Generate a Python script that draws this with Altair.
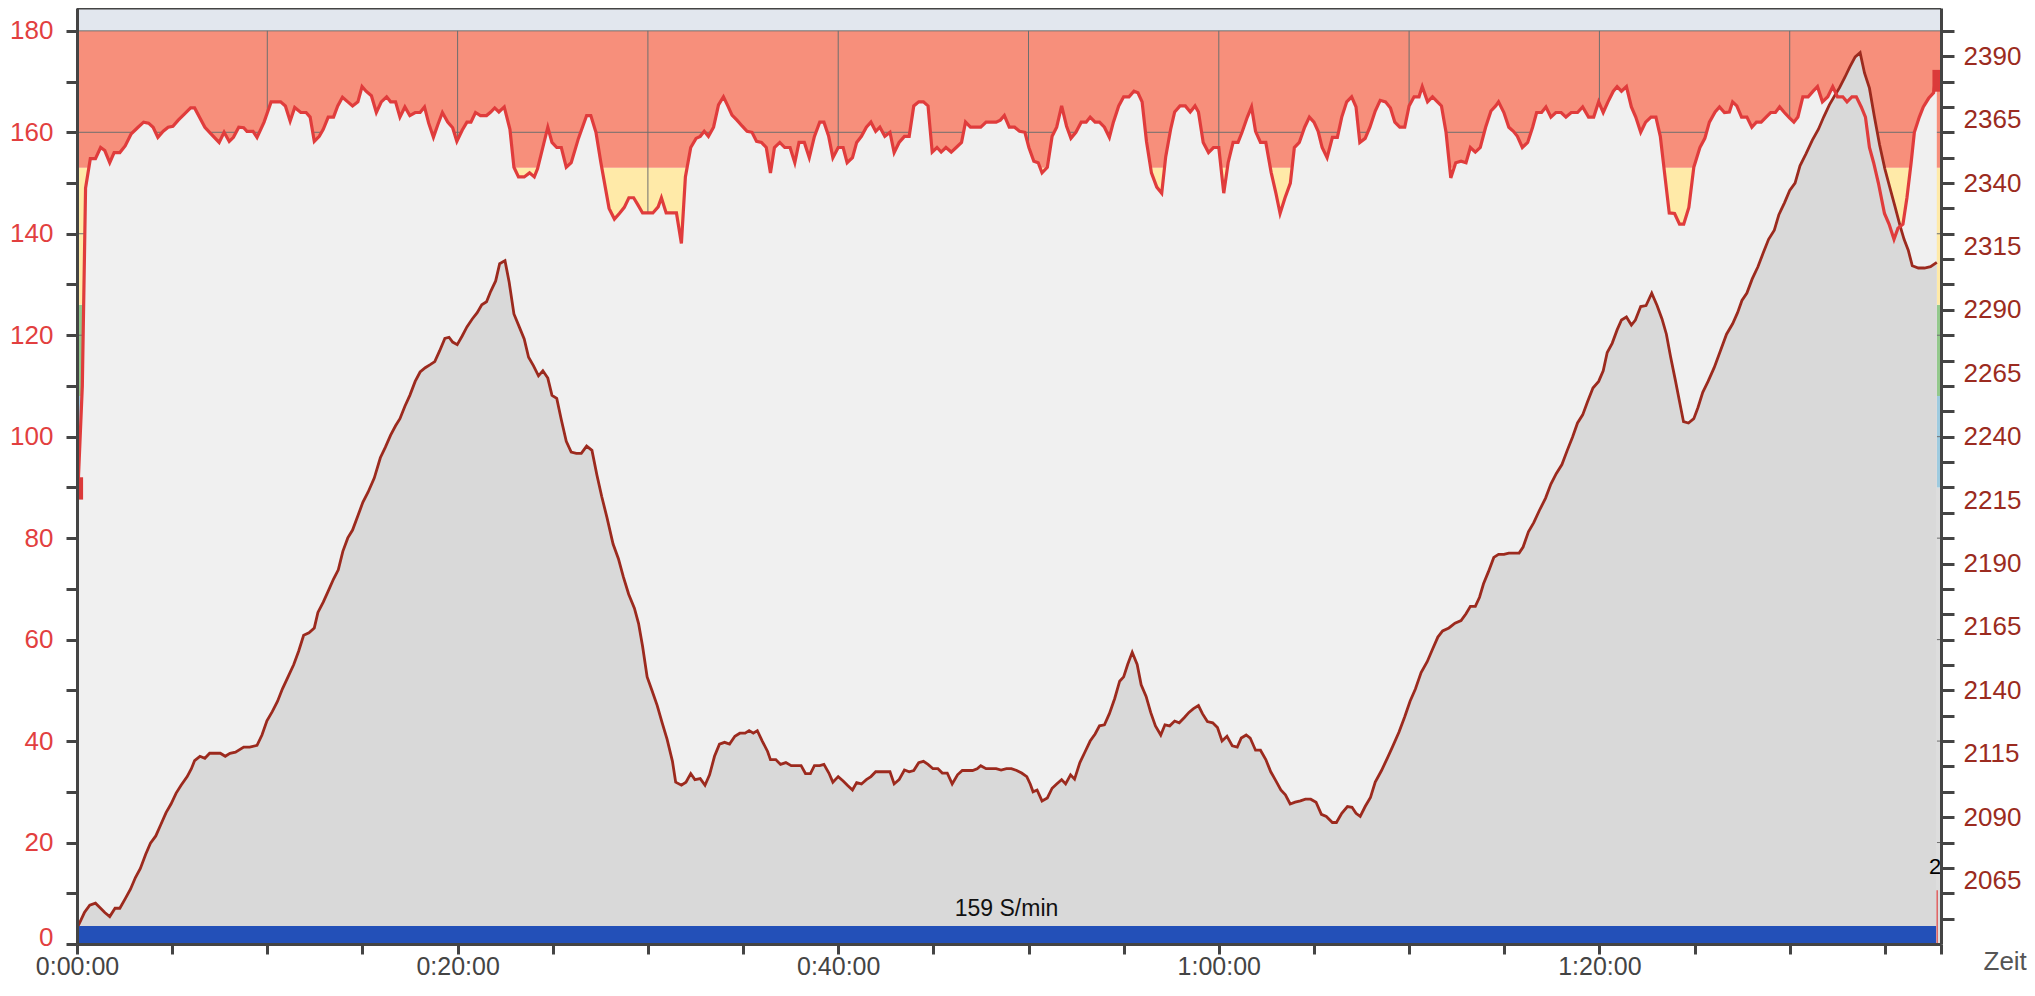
import altair as alt
import pandas as pd

FONT = "Liberation Sans"

# ---------------- data ----------------
hr_t = [0.06,0.28,0.45,0.7,0.97,1.24,1.46,1.72,1.95,2.25,2.53,2.85,3.18,3.5,3.76,4.0,4.25,4.53,4.79,5.04,5.32,5.64,5.97,6.18,6.46,6.72,7.04,7.47,7.73,8.0,8.22,8.5,8.76,8.93,9.25,9.46,9.83,10.2,10.7,10.95,11.2,11.44,11.76,12.04,12.25,12.47,12.73,12.94,13.2,13.48,13.7,13.95,14.23,14.48,14.76,14.98,15.19,15.47,15.73,15.99,16.27,16.48,16.74,16.97,17.23,17.49,17.77,18.03,18.26,18.48,18.73,18.95,19.2,19.48,19.74,19.96,20.24,20.49,20.7,20.94,21.2,21.52,21.74,21.95,22.17,22.45,22.75,22.96,23.2,23.5,23.78,24.03,24.2,24.74,24.96,25.21,25.45,25.71,25.97,26.35,26.78,27.0,27.27,27.53,27.96,28.24,28.5,28.76,29.0,29.25,29.46,29.72,30.0,30.26,30.54,30.71,30.96,31.22,31.5,31.76,31.97,32.25,32.53,32.75,32.96,33.18,33.45,33.71,33.97,34.2,34.42,34.68,34.96,35.21,35.47,35.71,35.97,36.22,36.44,36.65,36.93,37.19,37.47,37.72,37.94,38.22,38.48,38.75,39.03,39.25,39.5,39.72,40.0,40.26,40.47,40.75,40.97,41.22,41.48,41.72,41.97,42.19,42.45,42.72,42.94,43.2,43.48,43.73,43.97,44.23,44.48,44.72,44.94,45.19,45.41,45.66,45.94,46.2,46.48,46.69,46.95,47.23,47.49,47.77,48.03,48.3,48.52,48.73,48.99,49.27,49.53,49.81,50.02,50.28,50.51,50.71,50.99,51.24,51.48,51.74,52.0,52.23,52.49,52.77,53.03,53.24,53.5,53.73,53.99,54.25,54.46,54.74,55.0,55.28,55.54,55.75,55.97,56.2,56.46,56.74,57.0,57.21,57.47,57.68,57.96,58.24,58.5,58.75,58.93,59.18,59.46,59.72,60.0,60.26,60.49,60.75,61.01,61.22,61.5,61.72,61.93,62.19,62.47,62.75,63.0,63.22,63.48,63.76,63.97,64.23,64.51,64.76,65.0,65.22,65.43,65.69,65.97,66.23,66.46,66.72,66.98,67.21,67.41,67.69,67.94,68.22,68.48,68.76,69.02,69.25,69.51,69.77,70.0,70.26,70.52,70.69,70.97,71.23,71.49,71.7,71.94,72.19,72.45,72.73,72.99,73.22,73.48,73.74,74.02,74.3,74.55,74.7,74.98,75.24,75.48,75.69,75.95,76.23,76.49,76.7,76.96,77.19,77.45,77.71,77.99,78.24,78.52,78.85,79.12,79.43,79.7,79.96,80.2,80.45,80.73,80.93,81.16,81.42,81.68,81.91,82.17,82.43,82.71,82.97,83.2,83.42,83.67,83.95,84.21,84.43,84.7,84.96,85.28,85.54,85.78,86.08,86.31,86.57,86.83,87.0,87.22,87.47,87.75,88.01,88.25,88.5,88.76,89.0,89.25,89.47,89.72,90.0,90.22,90.43,90.69,90.97,91.23,91.46,91.72,92.0,92.26,92.51,92.79,93.01,93.27,93.5,93.76,93.98,94.19,94.41,94.66,94.98,95.22,95.48,95.69,95.95,96.16,96.38,96.55,96.81,97.02,97.3,97.56,97.73]
hr_v = [90.6,110,149,154.8,154.8,157,156.4,154,156,156,157.3,159.7,160.9,162,161.8,161,159,160.2,161,161.2,162.4,163.6,164.8,164.8,162.8,161,159.7,158,160,158.2,159,161,160.9,160.2,160.2,159,162,166,166,165.2,162.2,164.9,163.9,163.9,163,158.2,159.2,160.6,163,163,165.2,166.9,166,165.2,166,169,168.1,167.2,163.9,166,167,166,166,163,165,163.3,163.9,163.9,165,161.8,159,161.4,163.9,162,160.9,158.2,160.4,162,162,163.9,163.3,163.3,164,164.8,164,165,160.6,153.1,151.2,151.2,152,151.2,152.8,161,158,157,157,153.1,154,158.8,163.3,163.3,160,154,145,142.9,144,145.2,147.1,147.1,145.8,144.1,144.1,144.1,145.3,147.1,144.1,144.1,144.1,138.1,151.2,157,158.8,159.2,160.2,159.2,161,165.4,167,165.2,163.4,162.4,161.2,160.2,160,158.2,158,157,152,157,158,157,157,154,158,158,155,159.2,162,162,159.2,155,157,157,154,155,158,159.2,161,162,160.2,161,159.2,160,156,158,159.2,159.2,165.2,166,166,165.2,156.1,157,156.1,157,156.1,157,158,162,161,161,161,162,162,162,162.4,163.3,161,161,160.2,160,157,154.3,154,152,153.1,159.2,161,165.2,161.2,158.8,160,162,162,163,162,162,161,159,162,165.2,167,167,168.1,167.8,166,158.2,152,149.2,148,155.2,160.6,164,165.2,165.2,164,165.2,164,158,156,157,157,148,154,158,158,160,163,165,160.2,158,158,152.1,148,144,147.1,150,157,158,161,163,162,160.2,157,155,159,159,163,166,167,165,158,158.8,161,164.2,166.3,166,164.8,162,161,161,165.2,167,167,169,166,167,166,165.2,160,151,154,154.3,154,157,156.1,157,161,164.2,165.2,166,163.9,161,160.2,159.2,157,158,161,163.9,163.9,165,163,163.9,163.9,163,163.9,163.9,165,163,163,166,163.9,166,168.1,169,168.1,169,165,163,160,162,163,163,159.2,152.1,144.1,144,141.9,141.9,145.2,153.1,157,158.8,162,164,165,163.9,164,166,165.2,163,163,161,162,162,163,163.9,163.9,165,163.9,162.8,162,163,167,167,168.1,169,166,167,169,167,167,166,167,167,165,163,157,154,150,144,141.9,138.9,141.1,141.9,147.1,154,160,163,165,166.7,167.8,172.1]

el_t = [0.06,0.39,0.67,0.97,1.24,1.46,1.72,2.0,2.25,2.53,2.81,3.07,3.33,3.61,3.86,4.14,4.4,4.68,4.94,5.21,5.47,5.79,6.01,6.18,6.46,6.72,6.97,7.25,7.53,7.79,8.04,8.33,8.76,9.08,9.46,9.72,9.98,10.26,10.54,10.79,11.12,11.39,11.65,11.91,12.19,12.47,12.66,12.94,13.2,13.48,13.73,13.97,14.23,14.48,14.76,15.02,15.3,15.62,15.94,16.2,16.48,16.74,16.97,17.23,17.49,17.77,18.03,18.3,18.56,18.8,19.06,19.33,19.55,19.74,19.98,20.24,20.49,20.77,21.03,21.27,21.52,21.74,22.0,22.21,22.49,22.71,22.96,23.24,23.5,23.73,23.99,24.25,24.48,24.74,24.96,25.21,25.45,25.71,25.97,26.24,26.5,26.78,27.06,27.32,27.57,27.85,28.17,28.45,28.71,28.99,29.29,29.51,29.72,29.96,30.21,30.49,30.75,31.01,31.29,31.46,31.76,32.0,32.25,32.47,32.75,33.0,33.24,33.5,33.76,34.03,34.29,34.57,34.83,35.11,35.32,35.54,35.75,36.01,36.29,36.44,36.72,36.97,37.25,37.53,37.79,38.05,38.28,38.54,38.75,39.03,39.25,39.51,39.72,40.0,40.26,40.51,40.75,40.97,41.22,41.48,41.72,41.97,42.23,42.51,42.72,42.94,43.2,43.48,43.73,43.97,44.23,44.48,44.72,44.98,45.24,45.47,45.73,45.99,46.27,46.52,46.8,47.06,47.3,47.49,47.77,48.03,48.3,48.56,48.84,49.1,49.38,49.64,49.91,50.09,50.24,50.45,50.71,50.99,51.24,51.48,51.74,51.95,52.21,52.42,52.7,52.96,53.24,53.5,53.73,53.99,54.25,54.53,54.79,55.0,55.21,55.45,55.71,55.92,56.18,56.42,56.67,56.95,57.17,57.42,57.68,57.92,58.18,58.43,58.67,58.93,59.14,59.4,59.68,59.93,60.17,60.43,60.71,60.97,61.18,61.44,61.65,61.93,62.19,62.47,62.73,63.0,63.26,63.5,63.75,64.01,64.29,64.55,64.83,65.11,65.39,65.65,65.97,66.18,66.46,66.76,67.0,67.21,67.43,67.69,67.97,68.22,68.55,68.87,69.15,69.47,69.77,70.05,70.33,70.63,70.95,71.23,71.51,71.76,72.09,72.41,72.73,72.99,73.22,73.48,73.7,73.91,74.17,74.45,74.7,74.98,75.24,75.52,75.78,75.99,76.27,76.55,76.85,77.17,77.45,77.73,78.03,78.31,78.59,78.85,79.12,79.38,79.66,79.96,80.2,80.41,80.67,80.93,81.16,81.42,81.68,81.89,82.17,82.45,82.75,83.03,83.29,83.52,83.74,83.99,84.21,84.42,84.68,84.96,85.18,85.43,85.71,86.03,86.36,86.68,87.0,87.26,87.49,87.75,88.03,88.33,88.61,88.89,89.19,89.43,89.73,90.0,90.28,90.54,90.86,91.19,91.51,91.79,92.09,92.37,92.62,92.9,93.16,93.44,93.7,93.93,94.19,94.45,94.72,95.0,95.26,95.52,95.8,96.01,96.23,96.44,96.76,97.08,97.4,97.73]
el_v = [2047.1,2052.4,2055.3,2056.1,2054.1,2052.4,2050.8,2054.1,2054.1,2057.8,2061.6,2066.2,2069.8,2075.4,2079.7,2082.6,2087,2091.8,2095.2,2099.5,2102.6,2106,2109.1,2112.3,2114,2113.2,2115.2,2115.2,2115.2,2114,2115.2,2115.6,2117.6,2117.6,2118.3,2122.4,2128,2131.6,2135.7,2140.5,2145.8,2150.2,2155.5,2161.7,2162.7,2164.6,2170.7,2174.8,2179.1,2183.9,2187.5,2194.8,2200.1,2203.2,2208.8,2214.1,2218.2,2223.7,2231.7,2235.8,2240.6,2244.3,2247.1,2252,2256.3,2261.8,2265.5,2267.2,2268.4,2269.6,2273.9,2278.7,2279.2,2277.3,2276.3,2279.7,2283.3,2286.4,2288.9,2292,2293.2,2297.3,2301.4,2308.2,2309.4,2300.9,2288.4,2283.3,2278.5,2271.3,2267.9,2264,2266,2263.1,2256.3,2255.1,2246.7,2238.2,2233.9,2233.4,2233.4,2236.3,2234.6,2224.9,2216.5,2208.1,2197.7,2191.9,2184.7,2177.9,2172.4,2166.3,2157.4,2145.3,2140,2134,2127.2,2120.7,2112,2103.8,2102.6,2103.8,2107.2,2104.8,2105.2,2102.6,2106.7,2114,2118.8,2119.5,2118.8,2121.9,2123.1,2123.1,2124.1,2123.1,2124.1,2120,2115.9,2112.7,2112.7,2110.8,2111.5,2110.3,2110.3,2110.3,2107.2,2107.2,2110.3,2110.3,2110.8,2107.4,2103.8,2106,2104.3,2102.4,2100.7,2103.6,2103.1,2104.8,2106,2107.9,2107.9,2107.9,2107.9,2103.1,2104.8,2108.6,2107.9,2108.4,2111.5,2112,2110.8,2109.1,2109.1,2107.4,2107.4,2103.1,2106.7,2108.4,2108.4,2108.4,2109.1,2110.3,2109.1,2109.1,2109.1,2108.6,2109.1,2109.1,2108.4,2107.4,2106,2103.1,2100,2100.7,2096.4,2097.6,2101.4,2103.1,2104.8,2103.1,2106.7,2105,2111.5,2115.6,2120,2122.8,2126,2126.4,2130.8,2136.8,2143.6,2145.3,2150.2,2155,2150.2,2142.2,2137.6,2131.3,2126,2122.4,2126.4,2126,2127.9,2127.2,2129.2,2131.3,2132.8,2134,2130.8,2127.7,2127.2,2125.3,2120,2121.9,2118.1,2117.6,2121.2,2122.4,2121.2,2116.4,2116.4,2112.7,2107.9,2104.3,2100.7,2098.8,2095.2,2095.9,2096.4,2097.1,2097.1,2095.9,2091.1,2090.3,2087.9,2087.9,2091.5,2094.2,2093.9,2091.5,2090.3,2094.2,2097.8,2103.8,2108.4,2113.5,2118.1,2123.6,2129.6,2135.7,2140.5,2147,2151.3,2156.2,2161,2163.4,2164.6,2166.5,2167.5,2170.2,2173.1,2173.1,2176.7,2182,2186.8,2192.4,2193.6,2193.6,2194.1,2194.1,2194.1,2196.5,2202.5,2206.1,2211,2215.8,2221.3,2225.4,2229,2234.6,2239.9,2245.4,2248.6,2253.9,2259.2,2261.8,2266,2273.2,2276.8,2282.1,2286,2287.2,2284,2286,2291.3,2291.7,2296.6,2291.7,2286.4,2280.4,2271.5,2262.3,2253.9,2245.9,2245.4,2247.1,2251.5,2257.5,2261.8,2267.2,2273.9,2280.4,2284.5,2288.9,2293.7,2296.6,2302.2,2307,2312.5,2317.8,2321.4,2327.5,2332.3,2337.1,2340,2346.8,2351.6,2356.9,2361.2,2366.1,2370.9,2374.5,2377.6,2381.7,2385.8,2389.7,2391.4,2383.4,2377.4,2366.1,2355.2,2345.6,2338.3,2331.1,2323.1,2317.8,2313.5,2307.4,2306.5,2306.5,2307,2308.7]

# heart-rate zones (bpm)
zone_lo = [0, 90, 108, 126, 153, 180]
zone_hi = [90, 108, 126, 153, 180, 184.5]
zone_col = ["#dddddd", "#9ecbe0", "#93c98c", "#ffeaa8", "#f78f7b", "#e2e7ee"]

grid_min = [10, 20, 30, 40, 50, 60, 70, 80, 90]
grid_hr = [20, 40, 60, 80, 100, 120, 140, 160, 180]

# start / end markers of the heart-rate line
mk_t0 = [0.05, 97.5]
mk_t1 = [0.32, 97.92]
mk_lo = [87.6, 168.0]
mk_hi = [92.0, 172.3]

cad_label = ["159 S/min"]
cad_t0 = [0.0]
cad_t1 = [97.69]
cad_hi = [3.54]

X_MAX = 97.95
Y_MAX = 184.5
E_MIN = 2040
E_MAX = 2409

x_ticks = list(range(0, 96, 5)) + [X_MAX]
yl_ticks = list(range(0, 181, 10))
yr_ticks = sorted(set(range(2050, 2401, 10)) | set(range(2065, 2391, 25)))

W, H = 1864, 936

# ---------------- scales / axes ----------------
XS = alt.Scale(domain=[0, X_MAX], nice=False, zero=False)
YS = alt.Scale(domain=[0, Y_MAX], nice=False, zero=True)

X_AX = alt.Axis(
    values=x_ticks,
    labelExpr="datum.value % 20 == 0 ? (floor(datum.value / 60) + ':' + ((datum.value % 60) < 10 ? '0' : '') + (datum.value % 60) + ':00') : ''",
    title="Zeit", titleX=1906, titleY=25, titleAlign="left", titleBaseline="alphabetic",
    titleFont=FONT, titleFontSize=26, titleFontWeight="normal", titleColor="#555555",
    grid=False, domainColor="#444444", domainWidth=3, tickColor="#444444", tickWidth=3,
    tickSize=10, labelFont=FONT, labelFontSize=25, labelColor="#444444", labelPadding=0,
    labelFlush=False, labelOverlap=False, zindex=2,
)
YL_AX = alt.Axis(
    orient="left", values=yl_ticks,
    labelExpr="datum.value % 20 == 0 ? datum.label : ''",
    labelOffset={"condition": {"test": "datum.value == 0", "value": -7}, "value": 0},
    title=None, grid=False, domainColor="#444444", domainWidth=3, tickColor="#444444",
    tickWidth=3, tickSize=11, labelFont=FONT, labelFontSize=26, labelColor="#e23f3f",
    labelPadding=13, labelFlush=False, labelOverlap=False, zindex=2, format="d",
)
YR_AX = alt.Axis(
    orient="right", values=yr_ticks, format="d",
    labelExpr="(datum.value - 2065) % 25 == 0 ? datum.label : ''",
    tickOpacity={"condition": {"test": "datum.value % 10 != 0", "value": 0}, "value": 1},
    title=None, grid=False, domainColor="#444444", domainWidth=3, tickColor="#444444",
    tickWidth=3, tickSize=13, labelFont=FONT, labelFontSize=26, labelColor="#9b2b20",
    labelPadding=9, labelFlush=False, labelOverlap=False, zindex=2,
)

def X(f):
    return alt.X(f, type="quantitative", scale=XS, axis=X_AX)

def Y(f):
    return alt.Y(f, type="quantitative", scale=YS, axis=YL_AX)

# ---------------- frames ----------------
zone_df = pd.DataFrame({"lo": zone_lo, "hi": zone_hi, "col": zone_col,
                        "x0": [0.0] * len(zone_lo), "x1": [X_MAX] * len(zone_lo)})
hr_df = pd.DataFrame({"t": hr_t, "v": hr_v})
el_df = pd.DataFrame({"t": el_t, "e": el_v})
gx_df = pd.DataFrame({"t": grid_min, "a": [0] * len(grid_min), "b": [180] * len(grid_min)})
gy_df = pd.DataFrame({"v": grid_hr, "x0": [0.0] * len(grid_hr), "x1": [X_MAX] * len(grid_hr)})
mk_df = pd.DataFrame({"t0": mk_t0, "t1": mk_t1, "lo": mk_lo, "hi": mk_hi})
cad_df = pd.DataFrame({"t0": cad_t0, "t1": cad_t1, "lo": [0.0], "hi": cad_hi, "lab": cad_label})

zones = alt.Chart(zone_df).mark_rect().encode(
    x=X("x0"), x2="x1", y=Y("lo"), y2="hi", color=alt.Color("col:N", scale=None))

grid_v = alt.Chart(gx_df).mark_rule(color="#6e6e6e", strokeWidth=1).encode(
    x=X("t"), y=Y("a"), y2="b")
grid_h = alt.Chart(gy_df).mark_rule(color="#6e6e6e", strokeWidth=1).encode(
    x=X("x0"), x2="x1", y=Y("v"))

hr_area = alt.Chart(hr_df).mark_area(color="#f0f0f0", opacity=1).encode(x=X("t"), y=Y("v"))

el_base = alt.Chart(el_df).transform_calculate(u="(datum.e - 2040) / 2")
el_area = el_base.mark_area(color="#d9d9d9", opacity=1).encode(x=X("t"), y=Y("u"))
el_line = el_base.mark_line(color="#9c2a1e", strokeWidth=2.8).encode(x=X("t"), y=Y("u"))

hr_line = alt.Chart(hr_df).mark_line(color="#e03c3c", strokeWidth=3.2).encode(x=X("t"), y=Y("v"))

markers = alt.Chart(mk_df).mark_rect(color="#db3a3a").encode(
    x=X("t0"), x2="t1", y=Y("lo"), y2="hi")

cad_bar = alt.Chart(cad_df).mark_rect(color="#2350b8").encode(
    x=X("t0"), x2="t1", y=Y("lo"), y2="hi")
cad_txt = alt.Chart(cad_df).transform_calculate(
    mid="(datum.t0 + datum.t1) / 2", ty="datum.hi + 1"
).mark_text(font=FONT, fontSize=23, color="#111111", baseline="bottom", align="center").encode(
    x=X("mid"), y=Y("ty"), text="lab:N")

end_df = pd.DataFrame({"t": [97.75], "a": [0.0], "b": [10.6], "ty": [15.2], "lab": ["2"]})
end_rule = alt.Chart(end_df).mark_rule(color="#e06060", strokeWidth=1.5).encode(
    x=X("t"), y=Y("a"), y2="b")
end_txt = alt.Chart(end_df).mark_text(font=FONT, fontSize=22, color="#000000",
                                      align="right", baseline="middle", dx=4).encode(
    x=X("t"), y=Y("ty"), text="lab:N")

top_frame = alt.Chart(end_df).mark_rule(color="#444444", strokeWidth=3).encode(
    x=alt.value(0), x2=alt.value(W), y=alt.value(0))

left_group = alt.layer(zones, grid_v, grid_h, hr_area, el_area, el_line, hr_line,
                       markers, cad_bar, cad_txt, end_rule, end_txt, top_frame)

ax_df = pd.DataFrame({"e": [E_MIN, E_MAX]})
right_axis = alt.Chart(ax_df).mark_point(opacity=0).encode(
    y=alt.Y("e:Q", scale=alt.Scale(domain=[E_MIN, E_MAX], nice=False, zero=False), axis=YR_AX))

chart = alt.layer(left_group, right_axis).resolve_scale(y="independent").resolve_axis(
    y="independent"
).properties(
    width=W, height=H,
    padding={"left": 69, "top": 0, "right": 86, "bottom": 39},
    autosize=alt.AutoSizeParams(type="none"),
).configure_view(stroke=None).configure(background="#ffffff")

chart.save("out.html", embed_options={"renderer": "svg", "actions": False})
